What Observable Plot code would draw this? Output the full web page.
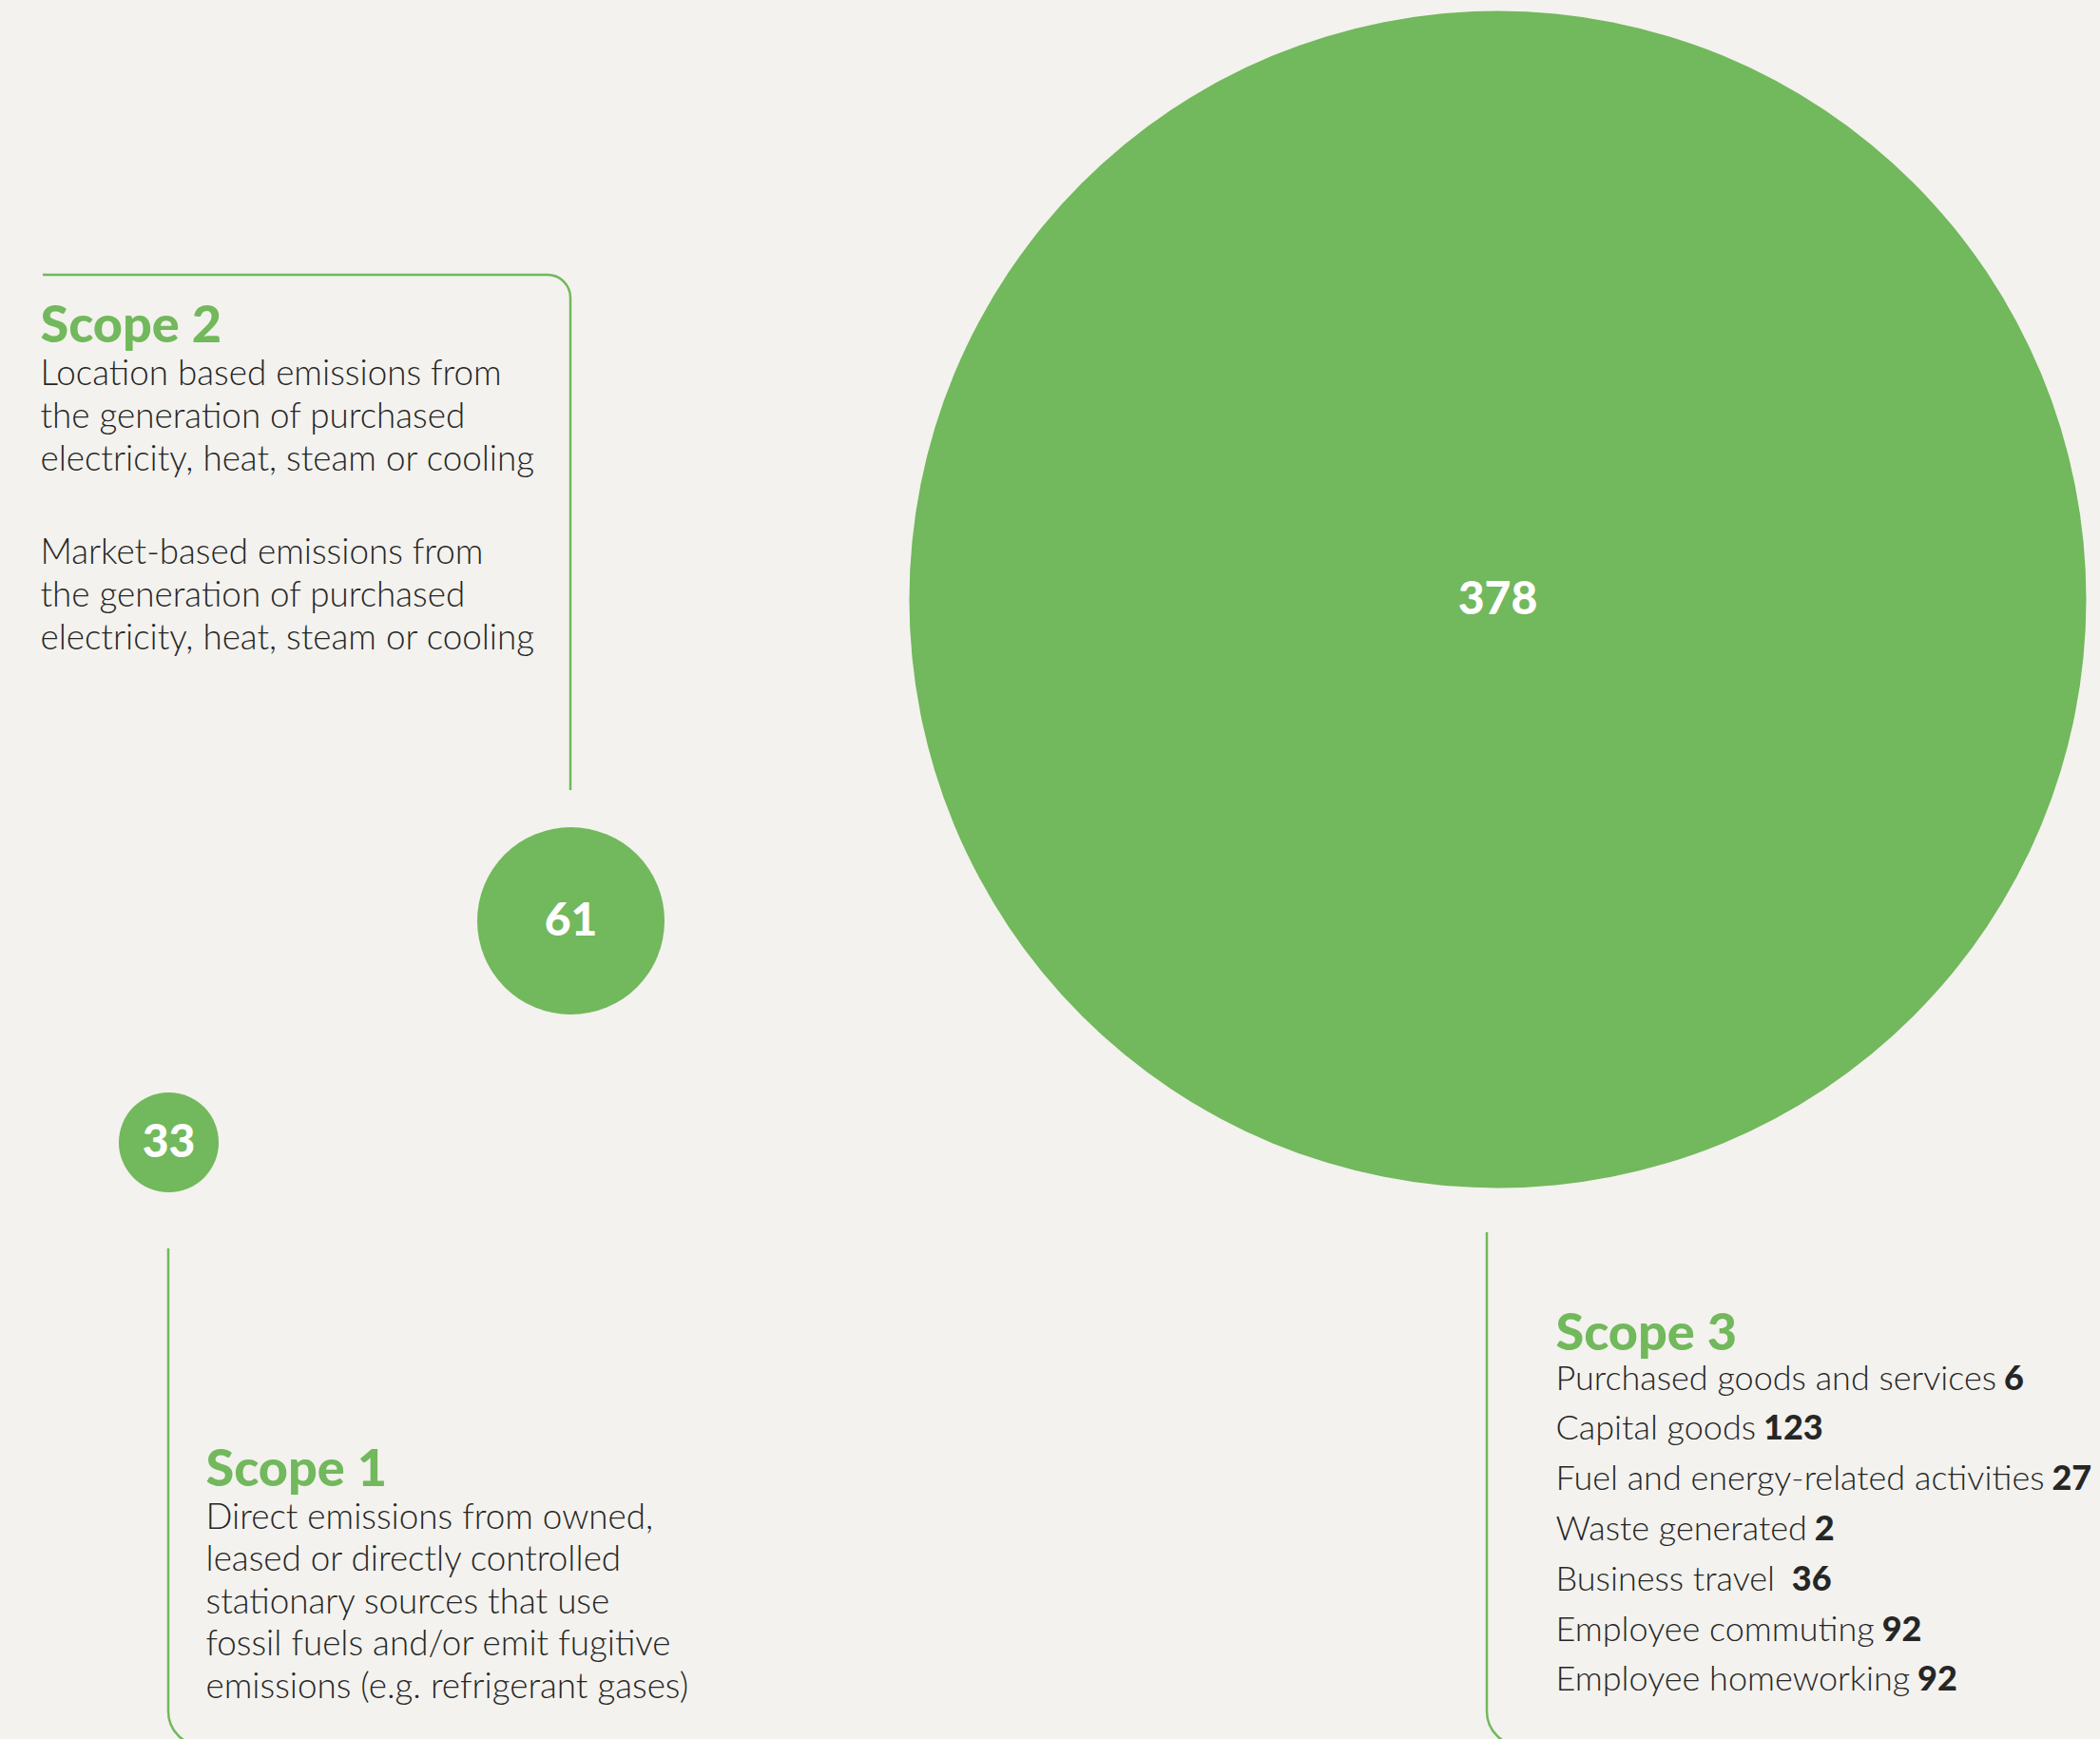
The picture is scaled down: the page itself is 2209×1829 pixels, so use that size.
<!DOCTYPE html>
<html><head><meta charset="utf-8">
<script src="https://cdn.jsdelivr.net/npm/d3@7"></script>
<script src="https://cdn.jsdelivr.net/npm/@observablehq/plot@0.6"></script>
<style>
html,body{margin:0;padding:0;background:#f3f2ee;}
#chart{width:2209px;height:1829px;overflow:hidden;}
</style></head><body><div id="chart"></div>
<script>
// ---------- data ----------
const scopes = ["Scope 1", "Scope 2", "Scope 3"];
const totals = [33, 61, 378];
const scope1Text = [
  "Direct emissions from owned,",
  "leased or directly controlled",
  "stationary sources that use",
  "fossil fuels and/or emit fugitive",
  "emissions (e.g. refrigerant gases)"
];
const scope2Location = [
  "Location based emissions from",
  "the generation of purchased",
  "electricity, heat, steam or cooling"
];
const scope2Market = [
  "Market-based emissions from",
  "the generation of purchased",
  "electricity, heat, steam or cooling"
];
const scope3Categories = [
  "Purchased goods and services",
  "Capital goods",
  "Fuel and energy-related activities",
  "Waste generated",
  "Business travel ",
  "Employee commuting",
  "Employee homeworking"
];
const scope3Values = [6, 123, 27, 2, 36, 92, 92];

// ---------- layout (pixels) ----------
const W = 2209, H = 1829;
const GREEN = "#72b85c", INK = "#262626", BG = "#f3f2ee";
const BODY_FONT = "Lato", BODY_SIZE = 36.8, BODY_WEIGHT = 300;
const S3_SIZE = 36;
const TITLE_SIZE = 54;
const centers = {"Scope 1": [177, 1201], "Scope 2": [600, 968], "Scope 3": [1575, 630]};
const titlePos = {"Scope 1": [216, 1562], "Scope 2": [42, 359], "Scope 3": [1636, 1419]};

const circles = scopes.map((s, i) => ({scope: s, value: totals[i], cx: centers[s][0], cy: centers[s][1]}));
const titles = scopes.map(s => ({text: s, x: titlePos[s][0], y: titlePos[s][1]}));

const bodyLines = [];
scope2Location.forEach((t, i) => bodyLines.push({text: t, x: 42, y: 404 + i * 45}));
scope2Market.forEach((t, i) => bodyLines.push({text: t, x: 42, y: 592 + i * 45}));
scope1Text.forEach((t, i) => bodyLines.push({text: t, x: 216, y: 1607 + i * 44.6}));

// measure label widths to place the bold numbers
const ctx = document.createElement("canvas").getContext("2d");
ctx.font = `${BODY_WEIGHT} ${S3_SIZE}px ${BODY_FONT}`;
const GAP = 8;
const s3Labels = scope3Categories.map((t, i) => ({text: t, x: 1636, y: 1461 + i * 52.8}));
const s3Numbers = scope3Categories.map((t, i) => ({
  text: String(scope3Values[i]),
  x: 1636 + ctx.measureText(t).width + GAP,
  y: 1461 + i * 52.8
}));

// connector paths with rounded corners
const connectors = [
  {pts: [[45, 289], [600, 289], [600, 831]], r: 24},
  {pts: [[177, 1313], [177, 1836], [700, 1836]], r: 36},
  {pts: [[1564, 1296], [1564, 1836], [2100, 1836]], r: 36}
];
function connectorMark(index, scales) {
  const g = d3.create("svg:g").attr("fill", "none").attr("stroke", GREEN).attr("stroke-width", 2.5);
  for (const c of connectors) {
    const p = d3.path();
    const [a, b, e] = c.pts.map(([x, y]) => [scales.x(x), scales.y(y)]);
    p.moveTo(a[0], a[1]);
    p.arcTo(b[0], b[1], e[0], e[1], c.r);
    p.lineTo(e[0], e[1]);
    g.append("path").attr("d", p.toString());
  }
  return g.node();
}

const chart = Plot.plot({
  width: W, height: H,
  margin: 0,
  style: {background: BG, overflow: "hidden"},
  x: {domain: [0, W], range: [0, W], axis: null},
  y: {domain: [0, H], range: [0, H], axis: null},
  r: {type: "linear", domain: [1, 378], range: [0, 619]},
  marks: [
    connectorMark,
    Plot.dot(circles, {x: "cx", y: "cy", r: "value", fill: GREEN, stroke: null}),
    Plot.text(circles, {x: "cx", y: "cy", text: d => String(d.value), fill: "white",
      fontFamily: "Lato", fontWeight: 900, fontSize: 48, lineAnchor: "middle", textAnchor: "middle"}),
    Plot.text(titles, {x: "x", y: "y", text: "text", fill: GREEN, fontFamily: "Lato", fontWeight: 900,
      fontSize: TITLE_SIZE, textAnchor: "start", lineAnchor: "bottom"}),
    Plot.text(bodyLines, {x: "x", y: "y", text: "text", fill: INK, fontFamily: BODY_FONT, fontWeight: BODY_WEIGHT,
      fontSize: BODY_SIZE, textAnchor: "start", lineAnchor: "bottom"}),
    Plot.text(s3Labels, {x: "x", y: "y", text: "text", fill: INK, fontFamily: BODY_FONT, fontWeight: BODY_WEIGHT,
      fontSize: S3_SIZE, textAnchor: "start", lineAnchor: "bottom"}),
    Plot.text(s3Numbers, {x: "x", y: "y", text: "text", fill: INK, fontFamily: "Lato", fontWeight: 900,
      fontSize: S3_SIZE, textAnchor: "start", lineAnchor: "bottom"})
  ]
});
document.getElementById("chart").appendChild(chart);
</script></body></html>
